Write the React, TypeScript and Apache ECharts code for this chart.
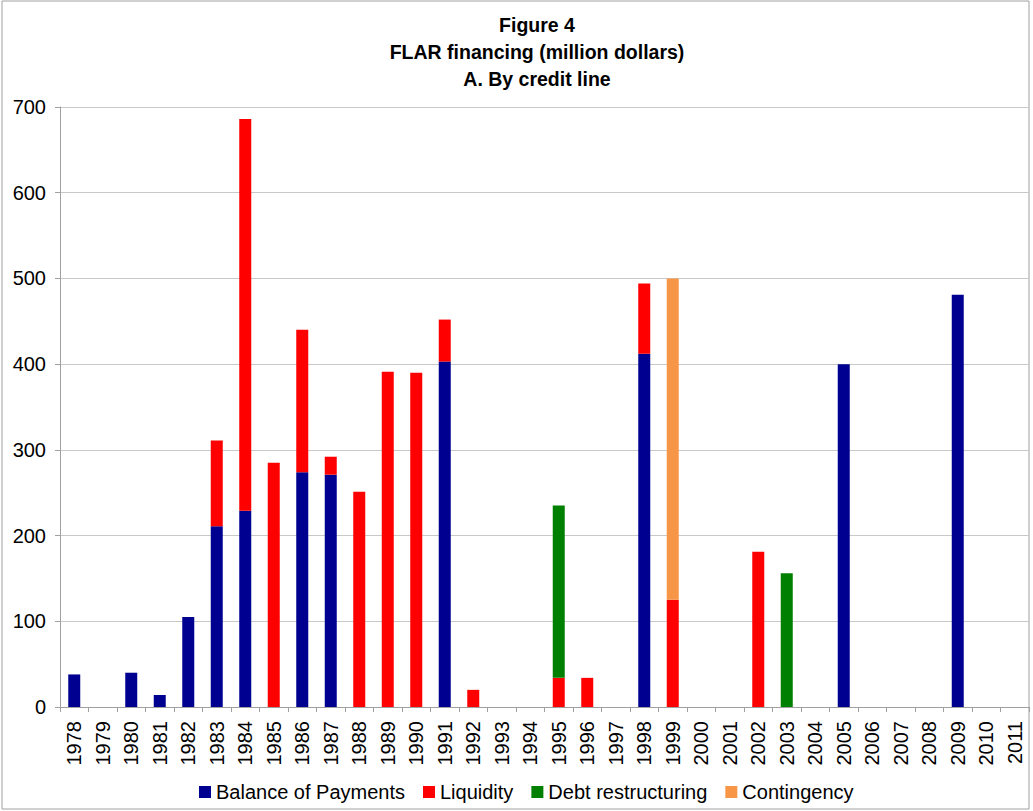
import React, { useEffect, useRef } from "react";
import * as echarts from "echarts";

const years = ["1978","1979","1980","1981","1982","1983","1984","1985","1986","1987","1988","1989","1990","1991","1992","1993","1994","1995","1996","1997","1998","1999","2000","2001","2002","2003","2004","2005","2006","2007","2008","2009","2010","2011"];
const balanceOfPayments = [38,0,40,14,105,211,229,0,274,271,0,0,0,403,0,0,0,0,0,0,412,0,0,0,0,0,0,400,0,0,0,481,0,0];
const liquidity = [0,0,0,0,0,100,457,285,166,21,251,391,390,49,20,0,0,34,34,0,82,125,0,0,181,0,0,0,0,0,0,0,0,0];
const debtRestructuring = [0,0,0,0,0,0,0,0,0,0,0,0,0,0,0,0,0,201,0,0,0,0,0,0,0,156,0,0,0,0,0,0,0,0];
const contingency = [0,0,0,0,0,0,0,0,0,0,0,0,0,0,0,0,0,0,0,0,0,375,0,0,0,0,0,0,0,0,0,0,0,0];
const yTicks = [0, 100, 200, 300, 400, 500, 600, 700];

const font = "Liberation Sans, Arial, sans-serif";

export default function App() {
  const ref = useRef<HTMLDivElement>(null);
  useEffect(() => {
    document.body.style.margin = "0";
    const chart = echarts.init(ref.current!, null, { renderer: "svg" });
    const mk = (name: string, data: number[], color: string) => ({
      name,
      type: "bar",
      stack: "total",
      data: data.map((v) => (v === 0 ? null : v)),
      barWidth: 12,
      itemStyle: { color },
    });
    chart.setOption({
      animation: false,
      backgroundColor: "#ffffff",
      title: {
        text: "Figure 4\nFLAR financing (million dollars)\nA. By credit line",
        left: 532,
        textAlign: "center",
        top: 6,
        textStyle: { fontFamily: font, fontWeight: "bold", fontSize: 19.5, lineHeight: 27, color: "#000" },
      },
      graphic: [
        {
          type: "rect",
          shape: { x: 2, y: 1, width: 1027, height: 808 },
          style: { fill: "none", stroke: "#a0a0a0", lineWidth: 1 },
          silent: true,
        },
      ],
      grid: { left: 60, right: 4, top: 107, bottom: 104, containLabel: false },
      legend: {
        bottom: 4,
        left: 194,
        itemWidth: 12,
        itemHeight: 12,
        itemGap: 18,
        icon: "rect",
        textStyle: { fontFamily: font, fontSize: 20, color: "#000" },
        data: ["Balance of Payments", "Liquidity", "Debt restructuring", "Contingency"],
      },
      xAxis: {
        type: "category",
        data: years,
        axisLine: { lineStyle: { color: "#a0a0a0", width: 1 } },
        axisTick: { show: true, length: 5, alignWithLabel: false, lineStyle: { color: "#a0a0a0" } },
        axisLabel: { rotate: 90, fontFamily: font, fontSize: 20, color: "#000", margin: 14, interval: 0 },
      },
      yAxis: {
        type: "value",
        min: yTicks[0],
        max: yTicks[yTicks.length - 1],
        interval: 100,
        axisLine: { show: true, lineStyle: { color: "#a0a0a0", width: 1 } },
        axisTick: { show: true, length: 5, lineStyle: { color: "#a0a0a0" } },
        axisLabel: { fontFamily: font, fontSize: 20, color: "#000", margin: 14 },
        splitLine: { lineStyle: { color: "#c8c8c8", width: 1 } },
      },
      series: [
        mk("Balance of Payments", balanceOfPayments, "#000090"),
        mk("Liquidity", liquidity, "#ff0000"),
        mk("Debt restructuring", debtRestructuring, "#008000"),
        mk("Contingency", contingency, "#f79646"),
      ],
    });
    return () => chart.dispose();
  }, []);
  return <div ref={ref} style={{ width: 1033, height: 811 }} />;
}
